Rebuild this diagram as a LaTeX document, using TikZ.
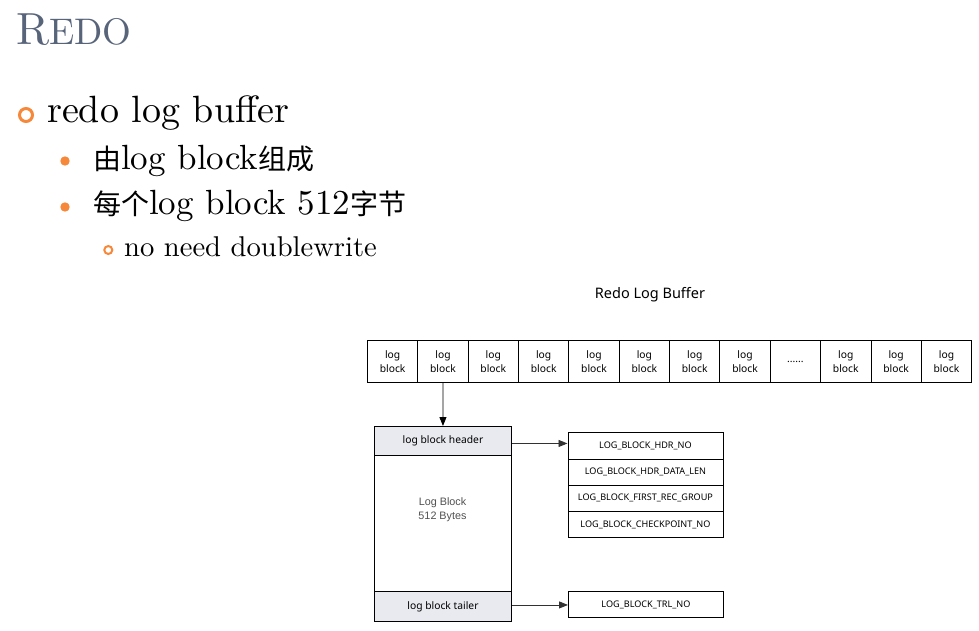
\documentclass[tikz,border=0pt]{standalone}
\usepackage{fontspec}
\setmainfont{lmroman10-regular.otf}
\newfontfamily\cjk{Noto Sans CJK SC}
\newfontfamily\uifont{Noto Sans}
\newfontfamily\arialfont{Liberation Sans}
\usetikzlibrary{arrows.meta}
\definecolor{titlecol}{RGB}{88,100,122}
\definecolor{bulletcol}{RGB}{247,136,58}
\definecolor{bandfill}{RGB}{233,234,240}
\definecolor{midtext}{RGB}{80,80,80}
\definecolor{arrcol}{RGB}{50,50,50}
\tikzset{
  txt/.style={anchor=base west, inner sep=0pt},
  cell/.style={draw, line width=0.9pt, minimum width=50.35pt, minimum height=42pt, inner sep=0pt,
    anchor=north west, align=center, font=\uifont\fontsize{10.3}{13.5}\selectfont},
  band/.style={draw, line width=0.9pt, fill=bandfill, minimum width=137pt, inner sep=0pt,
    anchor=north west, font=\uifont\fontsize{10.3}{12}\selectfont},
  field/.style={draw, line width=0.9pt, minimum width=155pt, minimum height=26.2pt, inner sep=0pt,
    anchor=north west, font=\uifont\fontsize{9.1}{10}\selectfont},
  varr/.style={line width=0.9pt, -{Triangle[length=9pt,width=7pt]}},
  harr/.style={line width=0.9pt, draw=arrcol, -{Triangle[length=9pt,width=7pt]}},
}
\newcommand{\cjkt}[1]{{\cjk\fontsize{28}{30}\selectfont #1}}
\begin{document}
\begin{tikzpicture}[x=1pt,y=-1pt]
\useasboundingbox (0,0) rectangle (979,631);
% title and bullets
\node[txt, text=titlecol] (title) at (16,45) {\fontsize{45}{50}\selectfont R\fontsize{37}{40}\selectfont EDO};
\draw[bulletcol, line width=3pt] (26,115) circle (6.5);
\node[txt] (lone) at (47,123) {\fontsize{38}{40}\selectfont redo log buffer};
\fill[bulletcol] (65,161) circle (4.7);
\node[txt] (ltwo) at (93,170) {\fontsize{35}{40}\selectfont\cjkt{由}log block\cjkt{组成}};
\fill[bulletcol] (65,207) circle (4.7);
\node[txt] (lthree) at (93,214) {\fontsize{35}{40}\selectfont\cjkt{每个}log block 512\cjkt{字节}};
\draw[bulletcol, line width=2pt] (108.3,250) circle (4);
\node[txt] (lfour) at (124,256) {\fontsize{28.6}{30}\selectfont no need doublewrite};
% diagram
\node[font=\uifont\fontsize{14.5}{16}\selectfont] (rlb) at (650,295) {Redo Log Buffer};
\foreach \i in {1,...,12}{
  \ifnum\i=9
    \node[cell] (c\i) at ({367+50.35*(\i-1)},340) {......};
  \else
    \node[cell] (c\i) at ({367+50.35*(\i-1)},340) {log\\block};
  \fi
}
\node[draw, line width=0.9pt, minimum width=137pt, minimum height=195pt, inner sep=0pt, anchor=north west] (blk) at (374,426) {};
\node[band, minimum height=29pt] (hdr) at (374,426) {log block header};
\node[band, minimum height=30pt] (tl) at (374,591) {log block tailer};
\node[align=center, text=midtext, font=\arialfont\fontsize{10.8}{14}\selectfont] (mid) at (442.5,510) {Log Block\\512 Bytes};
\draw[varr] (c2.south) -- (blk.north);
\node[field] (f1) at (567.5,432.3) {LOG\_BLOCK\_HDR\_NO};
\node[field] (f2) at (567.5,458.5) {LOG\_BLOCK\_HDR\_DATA\_LEN};
\node[field] (f3) at (567.5,484.7) {LOG\_BLOCK\_FIRST\_REC\_GROUP};
\node[field] (f4) at (567.5,510.9) {LOG\_BLOCK\_CHECKPOINT\_NO};
\node[field, minimum height=26pt] (trl) at (568,591) {LOG\_BLOCK\_TRL\_NO};
\draw[harr] (hdr.east) ++(0,2.5) coordinate (ha) -- (ha -| f1.west);
\draw[harr] (tl.east) ++(0,-1.5) coordinate (ta) -- (ta -| trl.west);
\end{tikzpicture}
\end{document}
